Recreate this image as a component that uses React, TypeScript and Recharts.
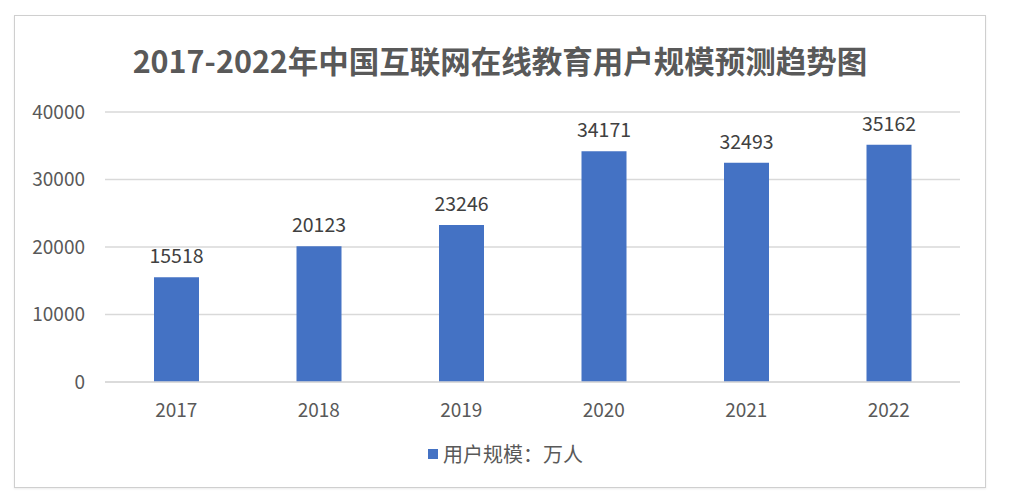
import React from "react";
import { BarChart, Bar, XAxis, YAxis, CartesianGrid, LabelList } from "recharts";

const years = ["2017", "2018", "2019", "2020", "2021", "2022"];
const users = [15518, 20123, 23246, 34171, 32493, 35162];
const yTicks = [0, 10000, 20000, 30000, 40000];
const title = "2017-2022年中国互联网在线教育用户规模预测趋势图";
const seriesName = "用户规模：万人";

const data = years.map((y, i) => ({ year: y, value: users[i] }));

const FONT = '"Noto Sans CJK SC", "Noto Sans", sans-serif';

export default function App() {
  return (
    <div style={{ position: "absolute", left: 0, top: 0, width: 1018, height: 498, background: "#fff", fontFamily: FONT }}>
      <div
        style={{
          position: "absolute",
          left: 14,
          top: 15,
          width: 970,
          height: 471,
          border: "1px solid #cfcfcf",
          boxShadow: "0 1px 2px rgba(0,0,0,0.08)",
        }}
      />
      <div
        style={{
          position: "absolute",
          left: 0,
          width: 1000,
          top: 37,
          textAlign: "center",
          fontSize: 30.5,
          fontWeight: 700,
          color: "#595959",
          lineHeight: "46px",
          whiteSpace: "nowrap",
        }}
      >
        {title}
      </div>
      <div style={{ position: "absolute", left: 0, top: 0 }}>
        <BarChart
          width={1018}
          height={498}
          data={data}
          margin={{ top: 112, right: 58, left: 0, bottom: 86 }}
        >
          <CartesianGrid vertical={false} stroke="#d9d9d9" strokeWidth={1.5} />
          <XAxis
            dataKey="year"
            height={30}
            axisLine={{ stroke: "#d9d9d9", strokeWidth: 1.5 }}
            tickLine={false}
            tickSize={0}
            tickMargin={22}
            tick={{ fill: "#595959", fontSize: 19, fontFamily: FONT }}
          />
          <YAxis
            width={105}
            domain={[0, 40000]}
            ticks={yTicks}
            axisLine={false}
            tickLine={false}
            tickSize={0}
            tickMargin={20}
            tick={{ fill: "#595959", fontSize: 19, fontFamily: FONT }}
          />
          <Bar dataKey="value" fill="#4472C4" barSize={45} isAnimationActive={false}>
            <LabelList
              dataKey="value"
              position="top"
              offset={14}
              fill="#404040"
              fontSize={19.5}
              fontFamily={FONT}
            />
          </Bar>
        </BarChart>
      </div>
      <div
        style={{
          position: "absolute",
          left: 428,
          top: 442,
          display: "flex",
          alignItems: "center",
          fontSize: 20,
          color: "#595959",
          lineHeight: "24px",
          whiteSpace: "nowrap",
        }}
      >
        <span style={{ display: "inline-block", width: 10, height: 10, background: "#4472C4", marginRight: 5 }} />
        <span>{seriesName}</span>
      </div>
    </div>
  );
}
